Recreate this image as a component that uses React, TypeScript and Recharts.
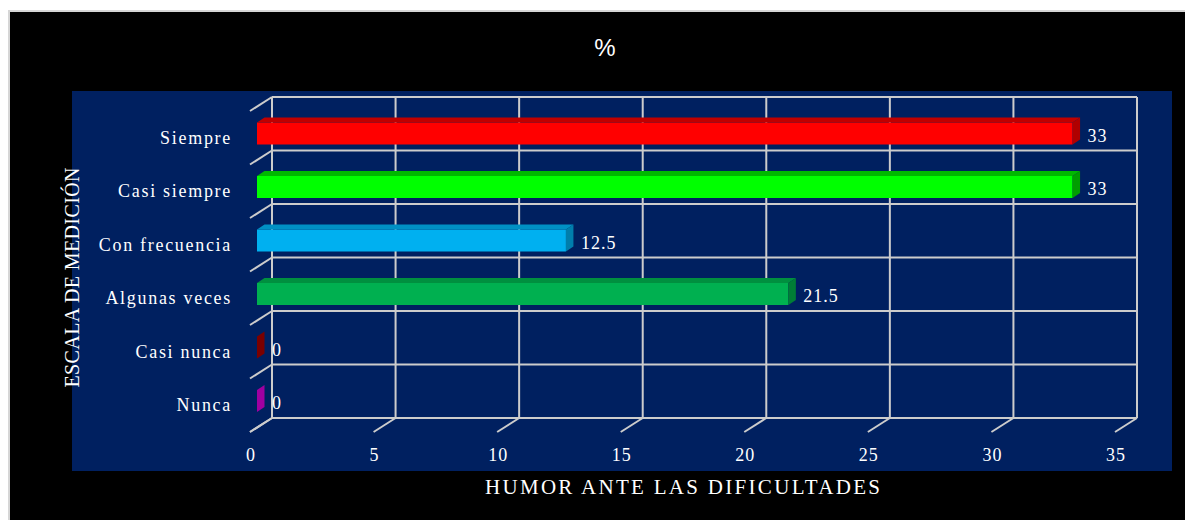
import { BarChart, Bar, XAxis, YAxis, CartesianGrid, Cell, LabelList } from "recharts";

const categories = ["Siempre", "Casi siempre", "Con frecuencia", "Algunas veces", "Casi nunca", "Nunca"];
const percentages = [33, 33, 12.5, 21.5, 0, 0];
const xTicks = [0, 5, 10, 15, 20, 25, 30, 35];

// colours per bar: front face, top face, side face
const frontColors = ["#ff0000", "#00ff00", "#00b0f0", "#00b050", "#c00000", "#cc00cc"];
const topColors = ["#c00000", "#00b800", "#0090c4", "#00903f", "#900000", "#b000b0"];
const sideColors = ["#b00000", "#009e00", "#007eac", "#007d36", "#7a0000", "#a000a0"];

const data = categories.map((name, i) => ({ name, value: percentages[i] }));

const GRID = "#cccccc";
const SERIF = '"Liberation Serif", "Times New Roman", serif';
// 3D offsets: floor depth, front of bar, bar depth
const FLOOR_DX = -22;
const FLOOR_DY = 14;
const FRONT_DX = -15;
const FRONT_DY = 9.5;
const DEPTH_DX = 7.5;
const DEPTH_DY = -5;

const hLine = (p: any) => (
  <g key={`h-${p.index}-${p.y1}`}>
    <line x1={p.x1} y1={p.y1} x2={p.x2} y2={p.y2} stroke={GRID} strokeWidth={2} />
    <line x1={p.x1} y1={p.y1} x2={p.x1 + FLOOR_DX} y2={p.y1 + FLOOR_DY} stroke={GRID} strokeWidth={2} />
  </g>
);

const vLine = (p: any) => (
  <g key={`v-${p.index}-${p.x1}`}>
    <line x1={p.x1} y1={p.y1} x2={p.x2} y2={p.y2} stroke={GRID} strokeWidth={2} />
    <line x1={p.x1} y1={p.y2} x2={p.x1 + FLOOR_DX} y2={p.y2 + FLOOR_DY} stroke={GRID} strokeWidth={2} />
  </g>
);

function Bar3D(props: any) {
  const { x, y, width, height, index } = props;
  const w = Math.max(width || 0, 0);
  const fx = x + FRONT_DX;
  const fy = y + FRONT_DY;
  return (
    <g>
      {w > 0 && <rect x={fx} y={fy} width={w} height={height} fill={frontColors[index]} />}
      {w > 0 && (
        <polygon
          points={`${fx},${fy} ${fx + w},${fy} ${fx + w + DEPTH_DX},${fy + DEPTH_DY} ${fx + DEPTH_DX},${fy + DEPTH_DY}`}
          fill={topColors[index]}
        />
      )}
      <polygon
        points={`${fx + w},${fy} ${fx + w + DEPTH_DX},${fy + DEPTH_DY} ${fx + w + DEPTH_DX},${fy + DEPTH_DY + height} ${fx + w},${fy + height}`}
        fill={sideColors[index]}
      />
    </g>
  );
}

const valueLabel = (p: any) => (
  <text
    x={p.x + Math.max(p.width, 0)}
    y={p.y + FRONT_DY + p.height / 2 + 2}
    fill="#ffffff"
    fontFamily={SERIF}
    fontSize={18}
    letterSpacing={1}
    dominantBaseline="central"
  >
    {p.value}
  </text>
);

const categoryTick = (p: any) => (
  <text
    x={p.x - 32}
    y={p.y + FLOOR_DY}
    fill="#ffffff"
    fontFamily={SERIF}
    fontSize={18}
    letterSpacing={1.7}
    textAnchor="end"
    dominantBaseline="central"
  >
    {p.payload.value}
  </text>
);

const numberTick = (p: any) => (
  <text
    x={p.x + FLOOR_DX + 1}
    y={p.y + 37}
    fill="#ffffff"
    fontFamily={SERIF}
    fontSize={18}
    letterSpacing={1}
    textAnchor="middle"
    dominantBaseline="central"
  >
    {p.payload.value}
  </text>
);

export default function App() {
  return (
    <div style={{ position: "fixed", left: 0, top: 0, width: 1185, height: 520, background: "#ffffff", overflow: "hidden" }}>
      <div
        style={{
          position: "absolute",
          left: 8,
          top: 10,
          right: 0,
          bottom: 0,
          background: "#000000",
          borderLeft: "2px solid #d6d6d6",
          borderTop: "2px solid #d6d6d6",
        }}
      />
      <div style={{ position: "absolute", left: 72, top: 91, width: 1100, height: 380, background: "#002060" }} />
      <div
        style={{
          position: "absolute",
          left: 0,
          top: 36,
          width: 1210,
          textAlign: "center",
          color: "#ffffff",
          fontFamily: '"Liberation Sans", Arial, sans-serif',
          fontSize: 24,
          lineHeight: "24px",
        }}
      >
        %
      </div>
      <div style={{ position: "absolute", left: 0, top: 0 }}>
        <BarChart
          width={1185}
          height={520}
          data={data}
          layout="vertical"
          margin={{ top: 97, right: 48, bottom: 42, left: 212 }}
        >
          <CartesianGrid
            fill="none"
            horizontal={hLine}
            vertical={vLine}
            horizontalCoordinatesGenerator={(g: any) =>
              categories.map((_, k) => g.offset.top + (k * g.offset.height) / categories.length).concat(g.offset.top + g.offset.height)
            }
          />
          <XAxis
            type="number"
            domain={[0, 35]}
            ticks={xTicks}
            interval={0}
            height={60}
            tickSize={0}
            tickMargin={0}
            axisLine={false}
            tickLine={false}
            tick={numberTick}
            label={{
              content: (p: any) => (
                <text
                  x={p.viewBox.x + p.viewBox.width / 2 + FLOOR_DX}
                  y={p.viewBox.y + 69}
                  fill="#ffffff"
                  fontFamily={SERIF}
                  fontSize={21}
                  textAnchor="middle"
                  dominantBaseline="central"
                  textLength={395}
                  lengthAdjust="spacing"
                >
                  HUMOR ANTE LAS DIFICULTADES
                </text>
              ),
            }}
          />
          <YAxis
            type="category"
            dataKey="name"
            width={60}
            axisLine={false}
            tickLine={false}
            tick={categoryTick}
            interval={0}
            label={{
              content: (p: any) => {
                const cx = p.viewBox.x - 140;
                const cy = p.viewBox.y + p.viewBox.height / 2 + 20;
                return (
                  <text
                    x={cx}
                    y={cy}
                    fill="#ffffff"
                    fontFamily={SERIF}
                    fontSize={20}
                    textAnchor="middle"
                    dominantBaseline="central"
                    transform={`rotate(-90 ${cx} ${cy})`}
                    textLength={220}
                    lengthAdjust="spacing"
                  >
                    ESCALA DE MEDICIÓN
                  </text>
                );
              },
            }}
          />
          <Bar dataKey="value" barSize={22} shape={<Bar3D />} isAnimationActive={false}>
            {data.map((d, i) => (
              <Cell key={d.name} fill={frontColors[i]} />
            ))}
            <LabelList dataKey="value" content={valueLabel} />
          </Bar>
        </BarChart>
      </div>
    </div>
  );
}
